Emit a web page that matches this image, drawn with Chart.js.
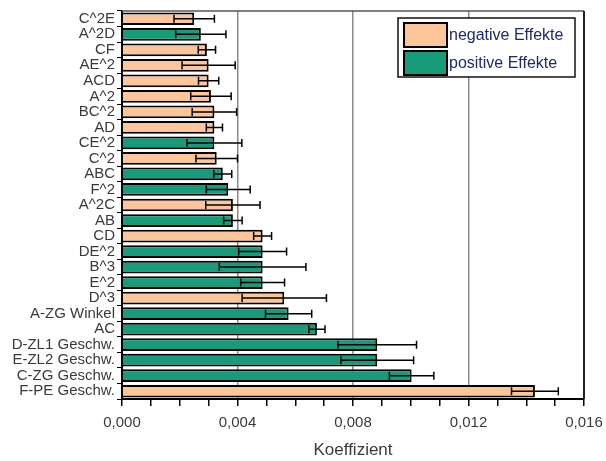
<!DOCTYPE html>
<html>
<head>
<meta charset="utf-8">
<script src="https://cdn.jsdelivr.net/npm/chart.js@4"></script>
<style>
  body { margin: 0; background: #fff; }
  #wrap { width: 606px; height: 461px; position: relative; }
</style>
</head>
<body>
<div id="wrap"><canvas id="effChart"></canvas></div>
<script>
// categories top to bottom
const categories = ['C^2E', 'A^2D', 'CF', 'AE^2', 'ACD', 'A^2', 'BC^2', 'AD', 'CE^2', 'C^2',
    'ABC', 'F^2', 'A^2C', 'AB', 'CD', 'DE^2', 'B^3', 'E^2', 'D^3', 'A-ZG Winkel', 'AC',
    'D-ZL1 Geschw.', 'E-ZL2 Geschw.', 'C-ZG Geschw.', 'F-PE Geschw.'];
const coefficients = [0.00250, 0.00273, 0.00294, 0.00300, 0.00300, 0.00308, 0.00320, 0.00320, 0.00320, 0.00328,
    0.00349, 0.00368, 0.00384, 0.00384, 0.00487, 0.00487, 0.00487, 0.00487, 0.00562, 0.00577, 0.00675,
    0.00884, 0.00884, 0.01003, 0.01430];
const errors = [0.00070, 0.00087, 0.00030, 0.00092, 0.00035, 0.00070, 0.00077, 0.00028, 0.00095, 0.00072,
    0.00031, 0.00076, 0.00094, 0.00032, 0.00031, 0.00083, 0.00150, 0.00076, 0.00146, 0.00080, 0.00028,
    0.00136, 0.00126, 0.00077, 0.00081];
// 'n' = negative effect, 'p' = positive effect
const effectType = ['n', 'p', 'n', 'n', 'n', 'n', 'n', 'n', 'p', 'n',
    'p', 'p', 'n', 'p', 'n', 'p', 'p', 'p', 'n', 'p', 'p',
    'p', 'p', 'p', 'n'];
const xTicks = [0, 0.004, 0.008, 0.012, 0.016];

const orange = '#fcc59a';
const green = '#189b7b';

const negValues = coefficients.map((v, i) => effectType[i] === 'n' ? v : null);
const posValues = coefficients.map((v, i) => effectType[i] === 'p' ? v : null);

const isMajor = v => xTicks.some(t => Math.abs(t - v) < 1e-7);

// error bars drawn from the data through the x scale
const errorBars = {
    id: 'errorBars',
    afterDatasetsDraw(chart) {
        const ctx = chart.ctx;
        const xs = chart.scales.x;
        ctx.save();
        ctx.strokeStyle = '#000';
        ctx.lineWidth = 1.5;
        chart.data.datasets.forEach((ds, di) => {
            const meta = chart.getDatasetMeta(di);
            meta.data.forEach((bar, i) => {
                if (ds.data[i] == null) return;
                const lo = xs.getPixelForValue(ds.data[i] - errors[i]);
                const hi = xs.getPixelForValue(ds.data[i] + errors[i]);
                const y = bar.y;
                ctx.beginPath();
                ctx.moveTo(lo, y); ctx.lineTo(hi, y);
                ctx.moveTo(lo, y - 4); ctx.lineTo(lo, y + 4);
                ctx.moveTo(hi, y - 4); ctx.lineTo(hi, y + 4);
                ctx.stroke();
            });
        });
        ctx.restore();
    }
};

// frame around the plot and legend box in the top right corner
const frameAndLegend = {
    id: 'frameAndLegend',
    afterDraw(chart) {
        const ctx = chart.ctx;
        const a = chart.chartArea;
        ctx.save();
        ctx.strokeStyle = '#555';
        ctx.lineWidth = 1.5;
        ctx.beginPath();
        ctx.moveTo(a.left, a.top); ctx.lineTo(a.right, a.top);
        ctx.stroke();
        ctx.strokeStyle = '#222';
        ctx.lineWidth = 2;
        ctx.beginPath();
        ctx.moveTo(a.right, a.top); ctx.lineTo(a.right, a.bottom);
        ctx.stroke();

        const bx = 398, by = 18, bw = 177, bh = 59;
        ctx.fillStyle = '#fff';
        ctx.fillRect(bx, by, bw, bh);
        ctx.strokeStyle = '#111';
        ctx.lineWidth = 1.5;
        ctx.strokeRect(bx, by, bw, bh);
        chart.data.datasets.forEach((ds, i) => {
            const sy = by + 5 + i * 28;
            ctx.fillStyle = ds.backgroundColor;
            ctx.fillRect(404, sy, 43, 24);
            ctx.strokeStyle = '#000';
            ctx.lineWidth = 2;
            ctx.strokeRect(404, sy, 43, 24);
            ctx.fillStyle = '#1c2a6e';
            ctx.font = '16px "Liberation Sans", Arial, sans-serif';
            ctx.textBaseline = 'middle';
            ctx.fillText(ds.label, 449, sy + 13);
        });
        ctx.restore();
    }
};

const config = {
    type: 'bar',
    data: {
        labels: categories,
        datasets: [
            {
                label: 'negative Effekte',
                data: negValues,
                backgroundColor: orange,
                borderColor: '#000',
                borderWidth: 2,
                grouped: false,
                categoryPercentage: 0.82,
                barPercentage: 1.0
            },
            {
                label: 'positive Effekte',
                data: posValues,
                backgroundColor: green,
                borderColor: '#000',
                borderWidth: 2,
                grouped: false,
                categoryPercentage: 0.82,
                barPercentage: 1.0
            }
        ]
    },
    options: {
        indexAxis: 'y',
        responsive: true,
        maintainAspectRatio: false,
        animation: false,
        layout: {
            padding: { top: 10, right: 22, left: 0, bottom: 0 }
        },
        plugins: {
            legend: { display: false },
            tooltip: { enabled: false }
        },
        scales: {
            x: {
                min: 0,
                max: 0.016,
                afterBuildTicks(scale) {
                    const t = [];
                    for (let k = 0; k <= 16; k++) t.push({ value: k * 0.001 });
                    scale.ticks = t;
                },
                afterFit(scale) {
                    scale.height = 62;
                    scale.paddingLeft = 0;
                    scale.paddingRight = 0;
                },
                border: { color: '#000', width: 2 },
                grid: {
                    color: c => (c.tick && isMajor(c.tick.value) && c.tick.value > 0 && c.tick.value < 0.016) ? '#8a8a8a' : 'rgba(0,0,0,0)',
                    lineWidth: 1.5,
                    tickColor: '#000',
                    tickLength: 7,
                    drawOnChartArea: true
                },
                ticks: {
                    autoSkip: false,
                    maxRotation: 0,
                    padding: 8,
                    color: '#3a3a3a',
                    font: { family: '"Liberation Sans", Arial, sans-serif', size: 15 },
                    callback: v => isMajor(v) ? v.toFixed(3).replace('.', ',') : ''
                },
                title: {
                    display: true,
                    text: 'Koeffizient',
                    color: '#3a3a3a',
                    font: { family: '"Liberation Sans", Arial, sans-serif', size: 17 },
                    padding: { top: 4, bottom: 0 }
                }
            },
            y: {
                afterFit(scale) { scale.width = 122; },
                border: { color: '#000', width: 2 },
                grid: {
                    drawOnChartArea: false,
                    tickColor: '#000',
                    tickLength: 5,
                    offset: true
                },
                ticks: {
                    autoSkip: false,
                    padding: 2,
                    color: '#3a3a3a',
                    font: { family: '"Liberation Sans", Arial, sans-serif', size: 15 }
                }
            }
        }
    },
    plugins: [errorBars, frameAndLegend]
};

const ctx = document.getElementById('effChart').getContext('2d');
new Chart(ctx, config);
</script>
</body>
</html>
